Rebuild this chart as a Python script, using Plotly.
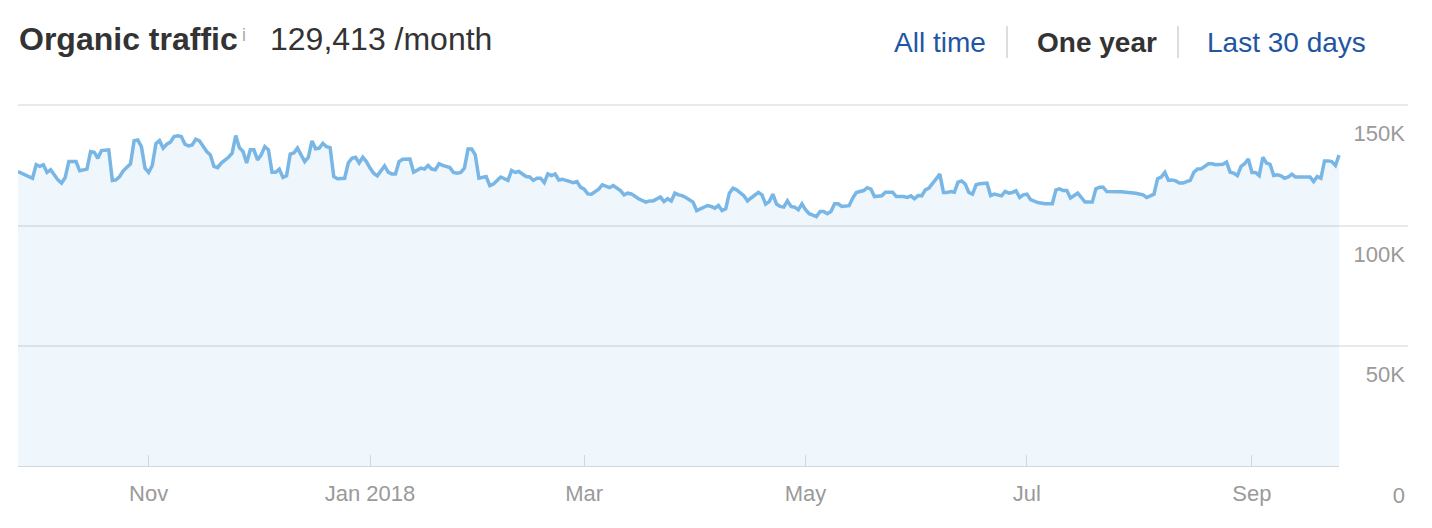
import plotly.graph_objects as go

# ---- data ----
dates = [
    "2017-09-26", "2017-09-27", "2017-09-29", "2017-09-30", "2017-10-01", "2017-10-02", "2017-10-03",
    "2017-10-04", "2017-10-05", "2017-10-06", "2017-10-07", "2017-10-08", "2017-10-09", "2017-10-10",
    "2017-10-12", "2017-10-13", "2017-10-15", "2017-10-16", "2017-10-17", "2017-10-18", "2017-10-19",
    "2017-10-21", "2017-10-22", "2017-10-23", "2017-10-24", "2017-10-25", "2017-10-27", "2017-10-28",
    "2017-10-29", "2017-10-30", "2017-10-31", "2017-11-01", "2017-11-02", "2017-11-03", "2017-11-04",
    "2017-11-05", "2017-11-06", "2017-11-07", "2017-11-08", "2017-11-09", "2017-11-10", "2017-11-11",
    "2017-11-12", "2017-11-13", "2017-11-14", "2017-11-15", "2017-11-16", "2017-11-17", "2017-11-18",
    "2017-11-19", "2017-11-20", "2017-11-21", "2017-11-23", "2017-11-24", "2017-11-25", "2017-11-26",
    "2017-11-27", "2017-11-28", "2017-11-29", "2017-11-30", "2017-12-01", "2017-12-02", "2017-12-03",
    "2017-12-04", "2017-12-05", "2017-12-06", "2017-12-07", "2017-12-08", "2017-12-09", "2017-12-10",
    "2017-12-11", "2017-12-12", "2017-12-13", "2017-12-14", "2017-12-15", "2017-12-16", "2017-12-17",
    "2017-12-18", "2017-12-19", "2017-12-20", "2017-12-21", "2017-12-22", "2017-12-23", "2017-12-25",
    "2017-12-26", "2017-12-27", "2017-12-28", "2017-12-29", "2017-12-30", "2017-12-31", "2018-01-01",
    "2018-01-02", "2018-01-03", "2018-01-04", "2018-01-05", "2018-01-06", "2018-01-07", "2018-01-08",
    "2018-01-09", "2018-01-10", "2018-01-12", "2018-01-13", "2018-01-14", "2018-01-15", "2018-01-16",
    "2018-01-17", "2018-01-18", "2018-01-19", "2018-01-20", "2018-01-21", "2018-01-23", "2018-01-24",
    "2018-01-25", "2018-01-26", "2018-01-27", "2018-01-28", "2018-01-29", "2018-01-30", "2018-01-31",
    "2018-02-01", "2018-02-02", "2018-02-03", "2018-02-04", "2018-02-06", "2018-02-07", "2018-02-08",
    "2018-02-09", "2018-02-10", "2018-02-11", "2018-02-13", "2018-02-14", "2018-02-15", "2018-02-16",
    "2018-02-17", "2018-02-18", "2018-02-19", "2018-02-20", "2018-02-21", "2018-02-22", "2018-02-23",
    "2018-02-24", "2018-02-26", "2018-02-27", "2018-02-28", "2018-03-01", "2018-03-02", "2018-03-03",
    "2018-03-04", "2018-03-05", "2018-03-06", "2018-03-07", "2018-03-08", "2018-03-09", "2018-03-10",
    "2018-03-11", "2018-03-12", "2018-03-13", "2018-03-14", "2018-03-15", "2018-03-16", "2018-03-18",
    "2018-03-19", "2018-03-20", "2018-03-21", "2018-03-22", "2018-03-23", "2018-03-24", "2018-03-25",
    "2018-03-26", "2018-03-27", "2018-03-28", "2018-03-29", "2018-03-30", "2018-03-31", "2018-04-01",
    "2018-04-02", "2018-04-04", "2018-04-05", "2018-04-06", "2018-04-07", "2018-04-08", "2018-04-09",
    "2018-04-10", "2018-04-11", "2018-04-12", "2018-04-14", "2018-04-15", "2018-04-16", "2018-04-17",
    "2018-04-18", "2018-04-19", "2018-04-20", "2018-04-21", "2018-04-22", "2018-04-23", "2018-04-24",
    "2018-04-25", "2018-04-26", "2018-04-27", "2018-04-28", "2018-04-29", "2018-04-30", "2018-05-01",
    "2018-05-02", "2018-05-04", "2018-05-05", "2018-05-06", "2018-05-07", "2018-05-08", "2018-05-09",
    "2018-05-10", "2018-05-11", "2018-05-13", "2018-05-14", "2018-05-15", "2018-05-16", "2018-05-17",
    "2018-05-18", "2018-05-19", "2018-05-20", "2018-05-21", "2018-05-22", "2018-05-23", "2018-05-25",
    "2018-05-26", "2018-05-28", "2018-05-29", "2018-05-30", "2018-05-31", "2018-06-01", "2018-06-02",
    "2018-06-03", "2018-06-04", "2018-06-05", "2018-06-06", "2018-06-07", "2018-06-08", "2018-06-09",
    "2018-06-10", "2018-06-11", "2018-06-12", "2018-06-13", "2018-06-14", "2018-06-15", "2018-06-16",
    "2018-06-17", "2018-06-18", "2018-06-20", "2018-06-21", "2018-06-22", "2018-06-24", "2018-06-25",
    "2018-06-26", "2018-06-27", "2018-06-28", "2018-06-29", "2018-06-30", "2018-07-01", "2018-07-02",
    "2018-07-03", "2018-07-04", "2018-07-06", "2018-07-07", "2018-07-08", "2018-07-09", "2018-07-10",
    "2018-07-11", "2018-07-12", "2018-07-13", "2018-07-14", "2018-07-15", "2018-07-16", "2018-07-17",
    "2018-07-19", "2018-07-20", "2018-07-21", "2018-07-22", "2018-07-23", "2018-07-25", "2018-07-27",
    "2018-07-29", "2018-07-31", "2018-08-02", "2018-08-03", "2018-08-04", "2018-08-05", "2018-08-06",
    "2018-08-07", "2018-08-08", "2018-08-09", "2018-08-10", "2018-08-11", "2018-08-12", "2018-08-13",
    "2018-08-14", "2018-08-15", "2018-08-16", "2018-08-17", "2018-08-18", "2018-08-19", "2018-08-20",
    "2018-08-21", "2018-08-22", "2018-08-24", "2018-08-25", "2018-08-26", "2018-08-27", "2018-08-28",
    "2018-08-29", "2018-08-30", "2018-08-31", "2018-09-01", "2018-09-02", "2018-09-03", "2018-09-04",
    "2018-09-05", "2018-09-06", "2018-09-07", "2018-09-08", "2018-09-09", "2018-09-10", "2018-09-11",
    "2018-09-12", "2018-09-13", "2018-09-14", "2018-09-15", "2018-09-17", "2018-09-18", "2018-09-19",
    "2018-09-20", "2018-09-21", "2018-09-22", "2018-09-23", "2018-09-24", "2018-09-25",
]

traffic = [
    122600, 121900, 120300, 119800, 125400, 124700, 125400,
    122200, 123300, 121200, 119100, 117800, 120100, 126700,
    126700, 122900, 123600, 130900, 130600, 128100, 131300,
    131600, 118900, 119100, 120500, 122900, 125800, 135400,
    135700, 132900, 124000, 122200, 125100, 134100, 135400,
    132300, 133900, 134800, 137100, 137400, 137100, 133900,
    133200, 133600, 136000, 135300, 132900, 130900, 129500,
    124700, 124200, 126100, 128500, 130200, 137500, 132500,
    130900, 126100, 131600, 131600, 127400, 129500, 132900,
    131600, 122300, 122300, 123600, 120100, 120800, 129800,
    130300, 132300, 129500, 126700, 128500, 135300, 132000,
    132300, 134300, 132900, 132500, 120500, 119600, 119800,
    126100, 128100, 128500, 126100, 128500, 126700, 124000,
    121900, 120800, 122900, 124900, 122300, 121600, 121600,
    126700, 127700, 127800, 122300, 123000, 124000, 123600,
    125100, 123600, 123300, 125800, 125100, 124200, 122200,
    121900, 122200, 124000, 131900, 131900, 129500, 119800,
    120300, 120500, 116700, 117400, 120300, 119400, 118900,
    123000, 122200, 122600, 120500, 120300, 118900, 119800,
    119800, 118000, 121600, 120900, 121600, 119100, 119400,
    118900, 118000, 118400, 116100, 115300, 113300, 113200,
    114300, 115300, 117100, 116400, 115900, 116800, 115700,
    114700, 112900, 113600, 113300, 112200, 111300, 109900,
    110400, 110400, 111100, 112000, 110100, 111300, 110400,
    113600, 112900, 112600, 111800, 110900, 109900, 106400,
    107000, 108500, 108100, 107400, 108500, 106400, 107100,
    113600, 115700, 115000, 112600, 110400, 111600, 112600,
    113900, 112900, 109100, 110100, 113200, 109100, 108100,
    107800, 110400, 108100, 107800, 106700, 109200, 106700,
    105100, 103900, 106000, 106000, 105100, 106000, 109200,
    109200, 108100, 108400, 111600, 113900, 114300, 114700,
    115900, 115300, 112200, 112200, 112500, 114000, 114000,
    112200, 112200, 111800, 112500, 111300, 112600, 112500,
    115000, 115700, 117800, 119800, 121500, 113900, 113900,
    114300, 114000, 118200, 118700, 117400, 113900, 113200,
    117100, 117500, 117800, 112600, 113200, 112500, 114300,
    113600, 113900, 114600, 111800, 112900, 113200, 110900,
    110400, 109700, 109200, 109200, 109200, 115000, 115400,
    114700, 114700, 111600, 112600, 113600, 111800, 109900,
    109900, 115400, 116100, 116100, 114300, 114300, 114200,
    113900, 113600, 112900, 111800, 112500, 113200, 119600,
    120300, 122200, 118900, 119100, 118700, 117800, 117800,
    118400, 118900, 122300, 123600, 123700, 124700, 125800,
    125800, 125400, 125600, 126500, 122300, 121900, 120900,
    124700, 125800, 127800, 122200, 122200, 120900, 128500,
    126100, 125600, 120900, 121200, 120800, 119800, 120300,
    121500, 120300, 120300, 120500, 120300, 118400, 120500,
    119800, 127000, 127000, 126700, 125100, 129413,
]

tick_dates = ["2017-11-01", "2018-01-01", "2018-03-01", "2018-05-01", "2018-07-01", "2018-09-01"]
tick_labels = ["Nov", "Jan 2018", "Mar", "May", "Jul", "Sep"]
y_ticks = [0, 50000, 100000, 150000]
y_tick_labels = ["0", "50K", "100K", "150K"]
x_range = ["2017-09-26", "2018-10-14"]
y_range = [0, 150600]

title_text = "Organic traffic"
info_text = "i"
current_value_text = "129,413 /month"
period_options = ["All time", "One year", "Last 30 days"]

# ---- layout geometry (screen pixels; the page body adds an 8px offset) ----
OFF = 8
W, H = 1432 - 2 * OFF, 528 - 2 * OFF
PLOT_L, PLOT_R, PLOT_T, PLOT_B = 18, 1408, 104, 467
L, R = PLOT_L - OFF, (W + OFF) - PLOT_R
T, B = PLOT_T - OFF, (H + OFF) - PLOT_B
PW, PH = PLOT_R - PLOT_L, PLOT_B - PLOT_T


def px(x):
    return (x - PLOT_L) / PW


def py(y):
    return (PLOT_B - y) / PH


FONT = "Liberation Sans, Arial, Helvetica, sans-serif"
LINK = "#1f56a3"
DARK = "#333333"
GREY = "#9a9a9a"

fig = go.Figure()
fig.add_trace(go.Scatter(
    x=dates, y=traffic, mode="lines",
    line=dict(color="#78b6e6", width=3.5),
    fill="tozeroy", fillcolor="rgba(120,183,230,0.12)",
    hoverinfo="skip", showlegend=False,
))
# darker baseline under the data span
fig.add_trace(go.Scatter(
    x=[dates[0], dates[-1]], y=[0, 0], mode="lines",
    line=dict(color="#d4d7da", width=2),
    hoverinfo="skip", showlegend=False,
))

annotations = [
    dict(text="<b>" + title_text + "</b>", x=px(17), y=py(39), xanchor="left", yanchor="middle",
         font=dict(size=32, color=DARK, family=FONT)),
    dict(text=info_text, x=px(240), y=py(35), xanchor="left", yanchor="middle",
         font=dict(size=18, color="#aaaaaa", family=FONT)),
    dict(text=current_value_text, x=px(268), y=py(39), xanchor="left", yanchor="middle",
         font=dict(size=32, color=DARK, family=FONT)),
    dict(text=period_options[0], x=px(940), y=py(42), xanchor="center", yanchor="middle",
         font=dict(size=28, color=LINK, family=FONT)),
    dict(text="<b>" + period_options[1] + "</b>", x=px(1097), y=py(42), xanchor="center", yanchor="middle",
         font=dict(size=28, color=DARK, family=FONT)),
    dict(text=period_options[2], x=px(1286), y=py(42), xanchor="center", yanchor="middle",
         font=dict(size=28, color=LINK, family=FONT)),
]
for a in annotations:
    a.update(xref="paper", yref="paper", showarrow=False)

shapes = [
    dict(type="line", xref="paper", yref="paper", x0=px(1007), x1=px(1007), y0=py(26), y1=py(58),
         line=dict(color="#dddddd", width=2)),
    dict(type="line", xref="paper", yref="paper", x0=px(1178), x1=px(1178), y0=py(26), y1=py(58),
         line=dict(color="#dddddd", width=2)),
]

fig.update_layout(
    width=W, height=H,
    margin=dict(l=L, r=R, t=T, b=B, pad=0, autoexpand=False),
    paper_bgcolor="white", plot_bgcolor="white",
    font=dict(family=FONT),
    annotations=annotations, shapes=shapes,
    showlegend=False,
    xaxis=dict(
        type="date", range=x_range, showgrid=False, zeroline=False, showline=False,
        automargin=False,
        tickmode="array", tickvals=tick_dates, ticktext=tick_labels,
        ticks="inside", ticklen=12, tickwidth=1, tickcolor="#d3d7db",
        tickfont=dict(size=22, color=GREY, family=FONT),
        ticklabelstandoff=11, fixedrange=True,
    ),
    yaxis=dict(
        range=y_range, side="right", showgrid=True, gridcolor="#e9e9e9", gridwidth=2,
        zeroline=False, showline=False, automargin=False,
        tickmode="array", tickvals=y_ticks, ticktext=y_tick_labels,
        ticks="", ticklabelposition="inside", ticklabelshift=28, ticklabeloverflow="allow",
        tickfont=dict(size=22, color=GREY, family=FONT), fixedrange=True,
    ),
)

fig.write_html("out.html")
